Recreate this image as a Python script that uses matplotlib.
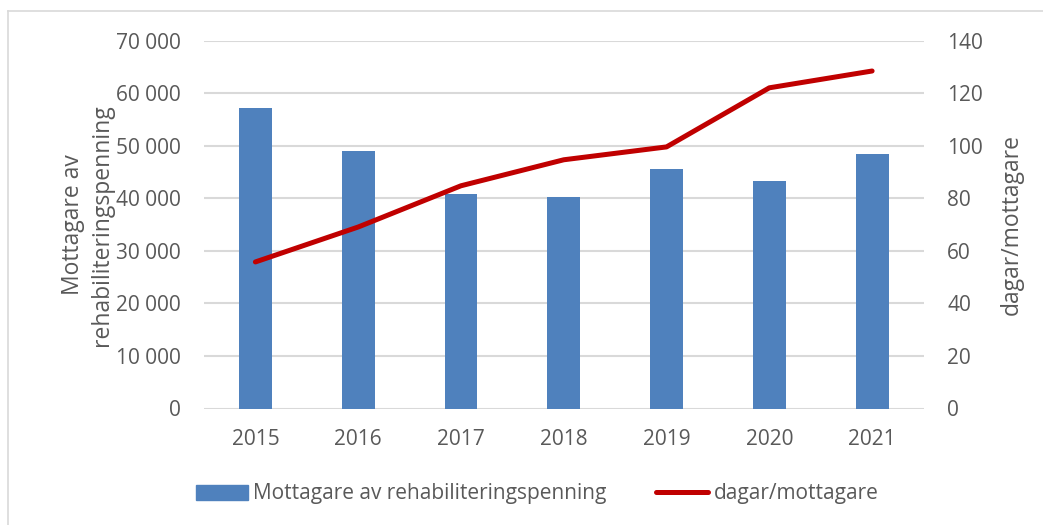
import matplotlib
matplotlib.use("Agg")
import matplotlib.pyplot as plt
from matplotlib.lines import Line2D
import numpy as np

#-------------------#
# Data
#-------------------#
years = ["2015", "2016", "2017", "2018", "2019", "2020", "2021"]
mottagare = [57200, 49100, 40800, 40300, 45500, 43300, 48400]
dagar = [55.8, 69.1, 84.8, 94.7, 99.6, 122.1, 128.5]

left_ticks = [0, 10000, 20000, 30000, 40000, 50000, 60000, 70000]
right_ticks = [0, 20, 40, 60, 80, 100, 120, 140]

#-------------------#
# Styles
#-------------------#
plt.rcParams['font.family'] = ['Open Sans', 'DejaVu Sans']
txt_col = '#595959'
bar_col = '#4f81bd'
line_col = '#c00000'
grid_col = '#d9d9d9'
fs = 15

fig = plt.figure(figsize=(10.43, 5.25), dpi=100)
W, H = 1043.0, 525.0
ax = fig.add_axes([204/W, 1 - 408.5/H, (923.5-204)/W, (408.5-40.8)/H])
ax2 = ax.twinx()

x = np.arange(len(years))
ax.bar(x, mottagare, width=0.32, color=bar_col, zorder=2)
ax.set_xlim(-0.5, len(years) - 0.5)
ax.set_ylim(0, 70000)
ax.set_yticks(left_ticks)
ax.set_yticklabels([format(v, ",").replace(",", " ") for v in left_ticks])
ax.set_xticks(x)
ax.set_xticklabels(years)
for v in left_ticks:
	ax.axhline(v, color=grid_col, lw=1.5, zorder=1)

ax2.plot(x, dagar, color=line_col, lw=3.6, solid_capstyle='round', zorder=3)
ax2.set_ylim(0, 140)
ax2.set_yticks(right_ticks)

for a in (ax, ax2):
	for s in a.spines.values():
		s.set_visible(False)
	a.tick_params(length=0, labelsize=fs, colors=txt_col)
ax.tick_params(axis='y', pad=17)
ax.tick_params(axis='x', pad=15)
ax2.tick_params(axis='y', pad=17)

ax.set_ylabel("Mottagare av\nrehabiliteringspenning", fontsize=16.5, color=txt_col,
		linespacing=1.3)
ax.yaxis.set_label_coords(-0.125, 0.5)
ax2.set_ylabel("dagar/mottagare", fontsize=16.5, color=txt_col, labelpad=12)

#-------------------#
# Legend
#-------------------#
handles = [plt.Rectangle((0, 0), 1, 1, color=bar_col),
		Line2D([0], [0], color=line_col, lw=3.6, solid_capstyle='round')]
labels = ["Mottagare av rehabiliteringspenning", "dagar/mottagare"]
leg = fig.legend(handles, labels, loc='center', bbox_to_anchor=(537/W, 1 - 494/H),
		ncol=2, frameon=False, fontsize=fs, handlelength=2.5, handletextpad=0.25,
		columnspacing=2.4, handleheight=0.7)
for t in leg.get_texts():
	t.set_color(txt_col)

# chart border (top and left edges visible)
fig.add_artist(Line2D([8/W, 1], [1 - 11/H, 1 - 11/H], color='#d9d9d9', lw=1.2))
fig.add_artist(Line2D([8/W, 8/W], [0, 1 - 11/H], color='#d9d9d9', lw=1.2))

fig.savefig("out.png", dpi=100)
